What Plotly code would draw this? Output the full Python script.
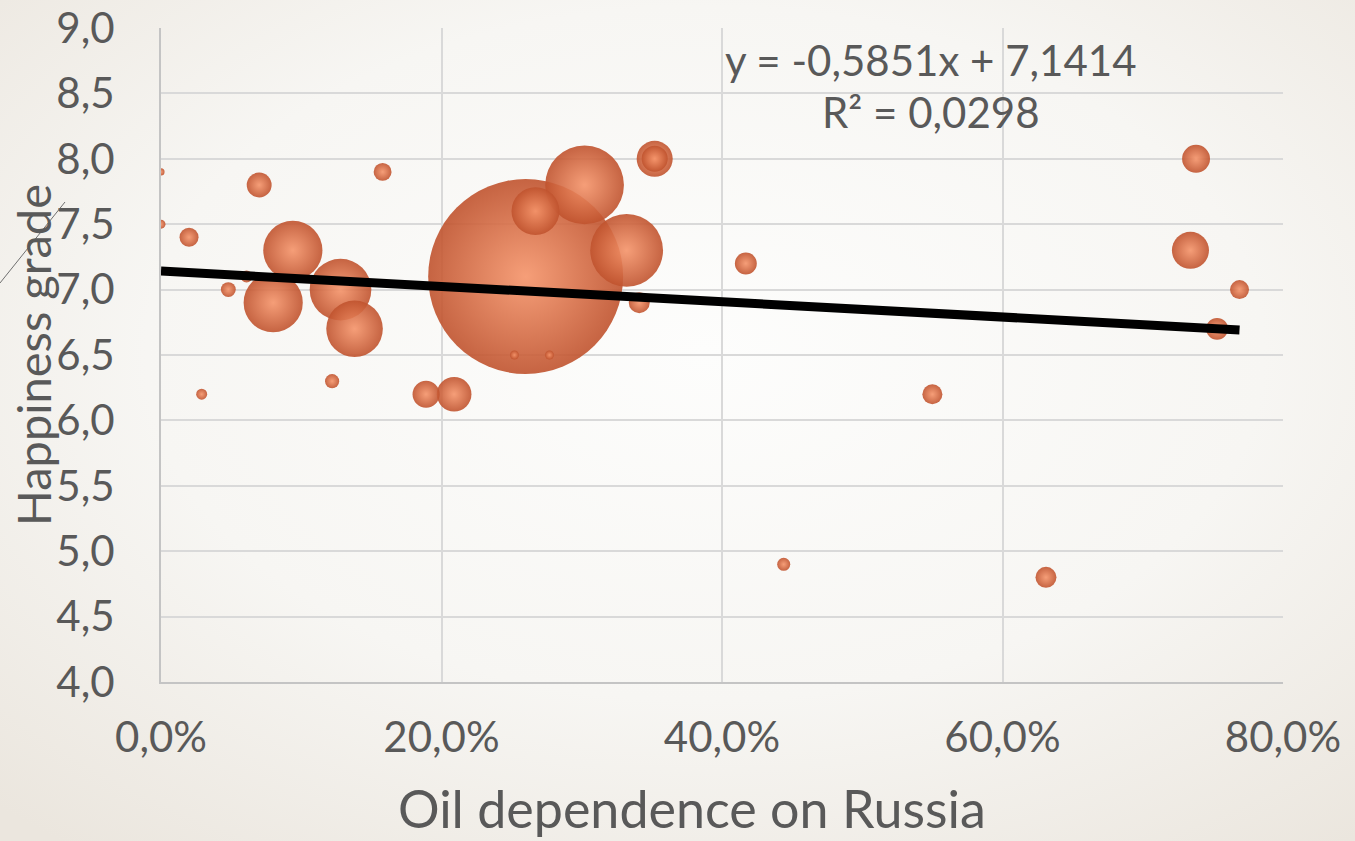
import base64
import plotly.graph_objects as go

# ---- data ----
oil_dependence = [0.000, 0.000, 0.020, 0.048, 0.029, 0.070, 0.080, 0.094, 0.128, 0.138,
                  0.122, 0.158, 0.189, 0.209, 0.260, 0.267, 0.302, 0.332, 0.352, 0.352,
                  0.341, 0.252, 0.277, 0.417, 0.444, 0.550, 0.631, 0.738, 0.734, 0.769,
                  0.753, 0.061]
happiness = [7.9, 7.5, 7.4, 7.0, 6.2, 7.8, 6.9, 7.3, 7.0, 6.7,
             6.3, 7.9, 6.2, 6.2, 7.1, 7.6, 7.8, 7.3, 8.0, 8.0,
             6.9, 6.5, 6.5, 7.2, 4.9, 6.2, 4.8, 8.0, 7.3, 7.0,
             6.7, 7.1]
bubble_value = [0.5, 0.8, 3.6, 2.2, 1.2, 6.2, 35, 35, 38, 32,
                2.0, 3.2, 7.3, 12, 380, 23, 62, 53, 13, 6.8,
                4.4, 0.8, 0.8, 4.8, 1.7, 4.0, 4.4, 7.8, 13.7, 3.6,
                4.8, 1.4]

trend_slope = -0.5851
trend_intercept = 7.1414
r_squared = 0.0298

x_tickvals = [0.0, 0.2, 0.4, 0.6, 0.8]
y_tickvals = [4.0, 4.5, 5.0, 5.5, 6.0, 6.5, 7.0, 7.5, 8.0, 8.5, 9.0]

x_title = "Oil dependence on Russia"
y_title = "Happiness grade"

# ---- draw largest bubbles first so smaller ones sit on top ----
order = sorted(range(len(bubble_value)), key=lambda i: -bubble_value[i])
bx = [oil_dependence[i] for i in order]
by = [happiness[i] for i in order]
bs = [bubble_value[i] for i in order]

FONT = "Lato"
TXT = "#595959"

fig = go.Figure()
fig.add_trace(go.Scatter(
    x=bx, y=by, mode="markers",
    marker=dict(size=bs, sizemode="area", sizeref=0.02,
                color="#c0532e",
                gradient=dict(type="radial", color="#f5946a"),
                opacity=0.9, line=dict(width=0)),
    cliponaxis=True, hoverinfo="skip", showlegend=False,
))

x_end = max(oil_dependence)
fig.add_trace(go.Scatter(
    x=[0.0, x_end],
    y=[trend_intercept, trend_intercept + trend_slope * x_end],
    mode="lines", line=dict(color="black", width=9),
    hoverinfo="skip", showlegend=False,
))

def fmt(v, nd):
    return f"{v:.{nd}f}".replace(".", ",")

eq_line1 = f"y = {fmt(trend_slope, 4)}x + {fmt(trend_intercept, 4)}"
eq_line2 = f"R² = {fmt(r_squared, 4)}"

# background radial gradient (slide look)
svg = ('<svg xmlns="http://www.w3.org/2000/svg" width="1355" height="841" preserveAspectRatio="none">'
       '<defs><radialGradient id="g" cx="0.52" cy="0.42" r="0.75">'
       '<stop offset="0" stop-color="#fdfdfc"/>'
       '<stop offset="0.55" stop-color="#f7f6f3"/>'
       '<stop offset="1" stop-color="#ebe6de"/>'
       '</radialGradient></defs>'
       '<rect width="1355" height="841" fill="url(#g)"/></svg>')
src = "data:image/svg+xml;base64," + base64.b64encode(svg.encode()).decode()

L, R, T, B = 161, 72, 28, 159
PW, PH = 1355 - L - R, 841 - T - B

def px(xp):
    return (xp - L) / PW

def py(yp):
    return (841 - B - yp) / PH

fig.update_layout(
    width=1355, height=841,
    margin=dict(l=L, r=R, t=T, b=B, autoexpand=False),
    paper_bgcolor="#f5f3ef", plot_bgcolor="rgba(0,0,0,0)",
    separators=", ",
    font=dict(family=FONT, color=TXT, size=42),
    hovermode=False,
    images=[dict(source=src, xref="paper", yref="paper",
                 x=px(0), y=py(0), sizex=1355 / PW, sizey=841 / PH,
                 sizing="stretch", layer="below", xanchor="left", yanchor="top")],
    xaxis=dict(range=[0, 0.8], tickvals=x_tickvals, tickformat=".1%",
               showgrid=True, gridcolor="#d9d9d9", gridwidth=2,
               showline=True, linecolor="#c4c4c4", linewidth=2,
               zeroline=False, ticks="", ticklabelstandoff=18, automargin=False,
               tickfont=dict(size=42, color=TXT, family=FONT)),
    yaxis=dict(range=[4, 9], tickvals=y_tickvals, tickformat=".1f",
               showgrid=True, gridcolor="#d9d9d9", gridwidth=2,
               showline=True, linecolor="#c4c4c4", linewidth=2,
               zeroline=False, ticks="", ticklabelstandoff=36, automargin=False,
               tickfont=dict(size=42, color=TXT, family=FONT)),
    annotations=[
        dict(text=x_title, xref="paper", yref="paper",
             x=px(692), y=py(808), xanchor="center", yanchor="middle",
             showarrow=False, font=dict(size=52, color=TXT, family=FONT)),
        dict(text=y_title, xref="paper", yref="paper", textangle=-90,
             x=px(33), y=py(355), xanchor="center", yanchor="middle",
             showarrow=False, font=dict(size=47, color=TXT, family=FONT)),
        dict(text=eq_line1, xref="paper", yref="paper",
             x=px(931), y=py(60), xanchor="center", yanchor="middle",
             showarrow=False, font=dict(size=42, color=TXT, family=FONT)),
        dict(text=eq_line2, xref="paper", yref="paper",
             x=px(931), y=py(112), xanchor="center", yanchor="middle",
             showarrow=False, font=dict(size=42, color=TXT, family=FONT)),
    ],
    shapes=[dict(type="line", xref="paper", yref="paper",
                 x0=px(0), y0=py(283), x1=px(65), y1=py(202),
                 line=dict(color="#6f6f6f", width=1))],
)

fig.write_html("out.html")
